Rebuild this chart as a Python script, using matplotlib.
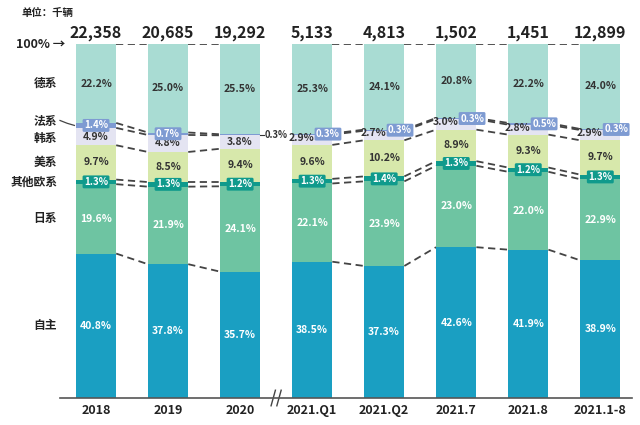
import numpy as np
import matplotlib
matplotlib.use('Agg')
import matplotlib.pyplot as plt

plt.rcParams['font.family'] = ['Noto Sans CJK SC', 'DejaVu Sans']

# --- datos ---
periodos = ['2018', '2019', '2020', '2021.Q1', '2021.Q2', '2021.7', '2021.8', '2021.1-8']
totales = ['22,358', '20,685', '19,292', '5,133', '4,813', '1,502', '1,451', '12,899']

zizhu = [40.8, 37.8, 35.7, 38.5, 37.3, 42.6, 41.9, 38.9]
rixi = [19.6, 21.9, 24.1, 22.1, 23.9, 23.0, 22.0, 22.9]
qita_ou = [1.3, 1.3, 1.2, 1.3, 1.4, 1.3, 1.2, 1.3]
meixi = [9.7, 8.5, 9.4, 9.6, 10.2, 8.9, 9.3, 9.7]
hanxi = [4.9, 4.8, 3.8, 2.9, 2.7, 3.0, 2.8, 2.9]
faxi = [1.4, 0.7, 0.3, 0.3, 0.3, 0.3, 0.5, 0.3]
dexi = [22.2, 25.0, 25.5, 25.3, 24.1, 20.8, 22.2, 24.0]

series = [
    ('自主', zizhu, '#1a9fc2', 'white'),
    ('日系', rixi, '#6ec4a2', 'white'),
    ('其他欧系', qita_ou, '#0f9a8c', 'box'),
    ('美系', meixi, '#d7e8ab', '#333333'),
    ('韩系', hanxi, '#e4e4f2', '#333333'),
    ('法系', faxi, '#7e9bd2', 'box'),
    ('德系', dexi, '#a9dcd3', '#333333'),
]
# pequeño ajuste vertical de las etiquetas de la izquierda
ajuste_izq = {'法系': 1.2, '韩系': -0.6}

x = np.arange(len(periodos))
w = 0.56

fig = plt.figure(figsize=(6.4, 4.25), dpi=100)
ax = fig.add_axes([60 / 640, 27 / 425, 572 / 640, 354 / 425])
ax.set_xlim(-0.5, 7.44)
ax.set_ylim(0, 100)

bottom = np.zeros(len(x))
limites = []
for nombre, vals, color, tcol in series:
    vals = np.array(vals)
    ax.bar(x, vals, w, bottom=bottom, color=color, edgecolor='none', zorder=2)
    centros = bottom + vals / 2
    for i in range(len(x)):
        if tcol == 'box':
            if nombre == '法系' and i == 2:
                ax.plot([x[i] + w / 2, x[i] + w / 2 + 0.05], [centros[i]] * 2, color='#333333', lw=0.8, zorder=3)
                ax.text(x[i] + w / 2 + 0.055, centros[i], f'{vals[i]:.1f}%', ha='left', va='center',
                        fontsize=6.8, fontweight='bold', color='#333333', zorder=5)
                continue
            dx = 0.22 if (nombre == '法系' and i >= 3) else 0
            ax.text(x[i] + dx, centros[i], f'{vals[i]:.1f}%', ha='center', va='center',
                    fontsize=7, fontweight='bold', color='white', zorder=5,
                    bbox=dict(boxstyle='round,pad=0.15', fc=color, ec='none'))
        else:
            dx, dy = 0, 0
            if nombre == '韩系' and i >= 3:
                dx, dy = -0.15, 0.6
            ax.text(x[i] + dx, centros[i] + dy, f'{vals[i]:.1f}%', ha='center', va='center',
                    fontsize=7.5, fontweight='bold', color=tcol, zorder=5)
    # etiqueta de categoria a la izquierda
    ax.text(-0.54, centros[0] + ajuste_izq.get(nombre, 0), nombre, ha='right', va='center',
            fontsize=8.5, fontweight='bold', color='#222222', clip_on=False)
    if nombre == '法系':
        ax.plot([-0.5, -0.4, -0.3], [centros[0] + 1.4, centros[0] + 0.6, centros[0]],
                color='#444444', lw=0.9, clip_on=False)
    bottom = bottom + vals
    limites.append(bottom.copy())

# lineas discontinuas entre barras (sin cruzar el corte 2020 -> 2021.Q1)
todas = [np.array(l) for l in limites[:-1]] + [np.full(len(x), 100.0)]
for lim in todas:
    for i in range(len(x) - 1):
        if i == 2:
            continue
        ax.plot([x[i] + w / 2, x[i + 1] - w / 2], [lim[i], lim[i + 1]], color='#444444',
                lw=1.3, ls=(0, (4, 2.5)), zorder=1)

# totales arriba
for i in range(len(x)):
    ax.text(x[i], 100.8, totales[i], ha='center', va='bottom', fontsize=11.5,
            fontweight='bold', color='#222222', clip_on=False)

ax.text(-0.43, 100, '100% →', ha='right', va='center', fontsize=9, fontweight='bold',
        color='#222222', clip_on=False)
fig.text(22 / 640, 1 - 13 / 425, '单位：千辆', ha='left', va='center', fontsize=7.5,
         fontweight='bold', color='#222222')

# ejes
for s in ['top', 'right', 'left']:
    ax.spines[s].set_visible(False)
ax.spines['bottom'].set_color('#555555')
ax.spines['bottom'].set_linewidth(1.2)
ax.set_yticks([])
ax.set_xticks(x)
ax.set_xticklabels(periodos, fontsize=9, fontweight='bold', color='#222222')
ax.tick_params(axis='x', length=0, pad=4)

# marca de corte //
for off in (-0.04, 0.04):
    ax.plot([2.5 + off - 0.03, 2.5 + off + 0.03], [-2.2, 2.2], color='#444444', lw=1, clip_on=False)

fig.savefig('out.png', dpi=100)
